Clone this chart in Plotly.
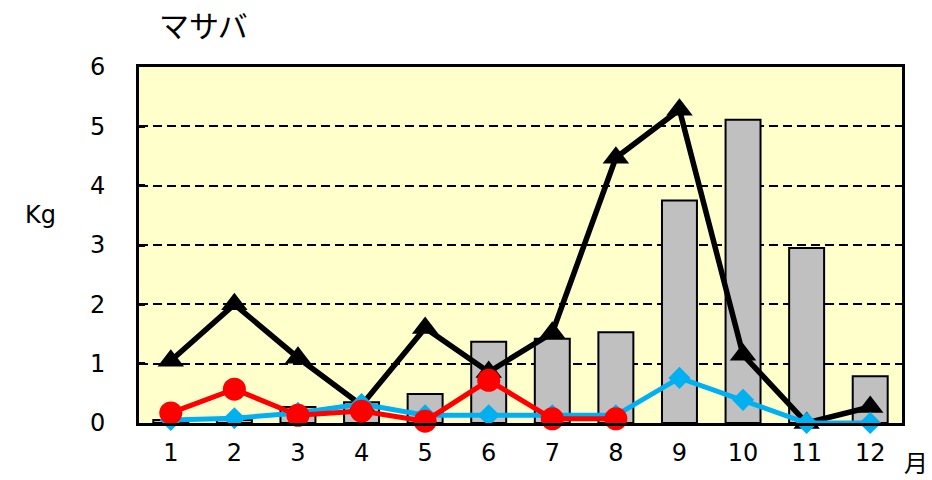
import plotly.graph_objects as go

months = [1, 2, 3, 4, 5, 6, 7, 8, 9, 10, 11, 12]
month_labels = [str(m) for m in months]
bar_vals = [0.05, 0.05, 0.27, 0.35, 0.49, 1.37, 1.42, 1.53, 3.75, 5.11, 2.95, 0.79]
black_vals = [1.05, 2.0, 1.1, 0.3, 1.6, 0.86, 1.52, 4.47, 5.28, 1.15, 0.0, 0.27]
red_months = [1, 2, 3, 4, 5, 6, 7, 8]
red_vals = [0.17, 0.57, 0.13, 0.2, 0.03, 0.72, 0.07, 0.07]
blue_vals = [0.05, 0.08, 0.17, 0.32, 0.13, 0.13, 0.13, 0.13, 0.76, 0.39, 0.0, 0.0]
y_ticks = [0, 1, 2, 3, 4, 5, 6]

fig = go.Figure()
fig.add_trace(go.Bar(x=months, y=bar_vals, width=0.55,
                     marker=dict(color="#C0C0C0", line=dict(color="black", width=2)),
                     showlegend=False))
fig.add_trace(go.Scatter(x=months, y=black_vals, mode="lines+markers",
                         line=dict(color="black", width=5.5),
                         marker=dict(symbol="triangle-up", size=23, color="black"),
                         showlegend=False, cliponaxis=False))
fig.add_trace(go.Scatter(x=months, y=blue_vals, mode="lines+markers",
                         line=dict(color="#00B0F0", width=5),
                         marker=dict(symbol="diamond", size=17, color="#00B0F0"),
                         showlegend=False, cliponaxis=False))
fig.add_trace(go.Scatter(x=red_months, y=red_vals, mode="lines+markers",
                         line=dict(color="#FF0000", width=5),
                         marker=dict(symbol="circle", size=23, color="#FF0000"),
                         showlegend=False, cliponaxis=False))

font_main = "DejaVu Sans, Verdana, sans-serif"
L, R, T, B = 139, 30, 67, 57
W, H = 932, 480
pw, ph = W - L - R, H - T - B


def px_ann(text, px, py, font):
    return dict(text=text, font=font, showarrow=False, xref="paper", yref="paper",
                x=(px - L) / pw, y=(H - B - py) / ph, xanchor="center", yanchor="middle")


fig.update_layout(
    width=W, height=H,
    margin=dict(l=L, r=R, t=T, b=B),
    paper_bgcolor="white", plot_bgcolor="#FFFFCC",
    font=dict(family=font_main, size=24, color="black"),
    xaxis=dict(range=[0.5, 12.5], tickmode="array", tickvals=months, ticktext=month_labels,
               showgrid=False, showline=True, linecolor="black", linewidth=3, mirror=True,
               ticks="", tickfont=dict(size=24), ticklabelstandoff=6, zeroline=False),
    yaxis=dict(range=[0, 6], tickmode="array", tickvals=y_ticks,
               showgrid=True, gridcolor="black", gridwidth=2, griddash="9px,5px",
               showline=True, linecolor="black", linewidth=3, mirror=True,
               ticks="inside", ticklen=6, tickwidth=3, tickcolor="black",
               tickfont=dict(size=24), ticklabelstandoff=26, zeroline=False),
    annotations=[
        px_ann("マサバ", 203, 24, dict(family="Noto Sans CJK JP", size=30)),
        px_ann("Kg", 40, 215, dict(family=font_main, size=24)),
        px_ann("月", 916, 461, dict(family="Noto Sans CJK JP", size=24)),
    ],
)
fig.write_html("out.html", config={"displayModeBar": False},
               post_script="document.body.style.margin='0px';")
